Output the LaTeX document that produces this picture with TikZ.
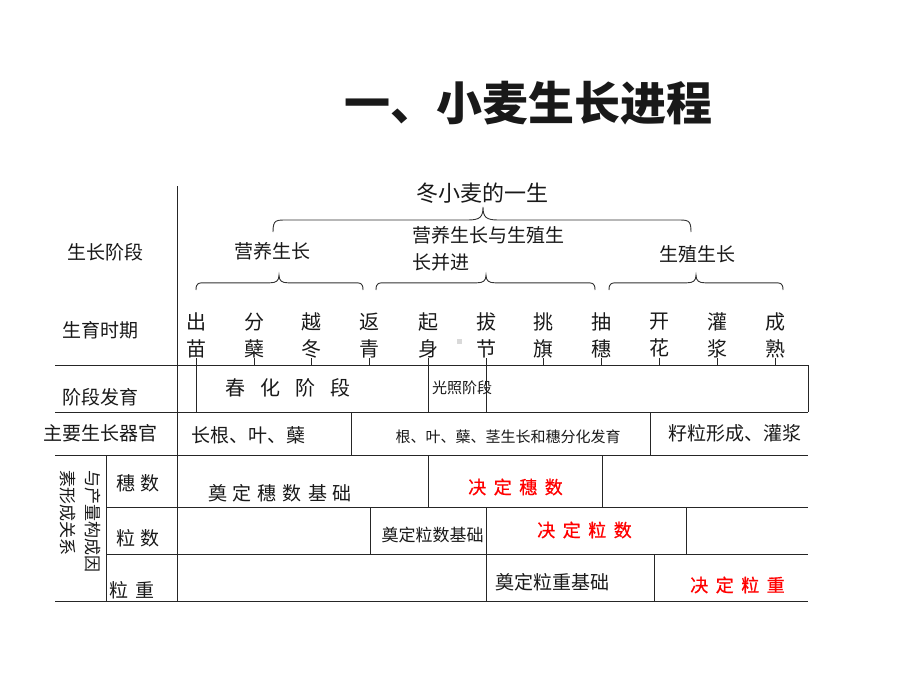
\documentclass[tikz,border=0pt]{standalone}
\usepackage{fontspec}
\setmainfont{Noto Sans CJK SC}
\newfontfamily\redfont[FakeBold=0.7]{Noto Sans CJK SC}
\newcommand{\wbrace}[5]{% left x, right x, cusp x, end y, amplitude
  \draw[brc] (#1,#4) .. controls (#1,#4-#5*0.5) and (#1+3,#4-#5*0.48) .. (#1+#5*0.6,#4-#5*0.48)
    -- (#3-#5*0.6,#4-#5*0.48) .. controls (#3-3,#4-#5*0.48) and (#3,#4-#5*0.6) .. (#3,#4-#5)
    .. controls (#3,#4-#5*0.6) and (#3+3,#4-#5*0.48) .. (#3+#5*0.6,#4-#5*0.48)
    -- (#2-#5*0.6,#4-#5*0.48) .. controls (#2-3,#4-#5*0.48) and (#2,#4-#5*0.5) .. (#2,#4);}
\begin{document}
\begin{tikzpicture}[x=1pt,y=-1pt,
  tbl/.style={draw=black!85, line width=0.9pt},
  brc/.style={draw=black!80, line width=0.9pt},
  lbl/.style={inner sep=0pt, anchor=center, text=black!90},
  t15/.style={lbl, font=\fontsize{15}{18}\selectfont},
  t17/.style={lbl, font=\fontsize{17}{20}\selectfont},
  t19/.style={lbl, font=\fontsize{19}{23}\selectfont},
  t20/.style={lbl, font=\fontsize{20}{24}\selectfont},
  t22/.style={lbl, font=\fontsize{22}{26}\selectfont},
  per/.style={lbl, align=center, font=\fontsize{20}{27}\selectfont},
  redt/.style={lbl, text=red, font=\redfont\fontsize{18}{22}\selectfont},
]
\useasboundingbox (0,0) rectangle (920,690);
\fill[white] (0,0) rectangle (920,690);

% title
\node[lbl, font=\fontsize{46}{50}\selectfont\bfseries] (title) at (528,103) {一、小麦生长进程};

% header texts
\node[t22] (life) at (482,193) {冬小麦的一生};
\node[t19] (veg) at (272,251) {营养生长};
\node[lbl, anchor=west, align=left, font=\fontsize{19}{27}\selectfont] (both) at (412,249) {营养生长与生殖生\\长并进};
\node[t19] (rep) at (697,254) {生殖生长};

% braces
\wbrace{273}{691}{483}{232}{25}
\wbrace{196}{363}{279}{290}{15}
\wbrace{376}{595}{486}{290}{15}
\wbrace{609}{783}{696}{290}{15}

% left labels
\node[t19] (l1) at (105,252) {生长阶段};
\node[t19] (l2) at (100,330) {生育时期};
\node[t19] (l3) at (100,397) {阶段发育};
\node[t19] (l4) at (100,433) {主要生长器官};

% table rules
\coordinate (r1) at (0,365);
\coordinate (r2) at (0,412);
\draw[tbl] (177,186) -- (177,601);
\draw[tbl] (55,365) -- (808,365) -- (808,412);
\draw[tbl] (55,412) -- (808,412);
\draw[tbl] (55,455) -- (808,455);
\draw[tbl] (106,507) -- (808,507);
\draw[tbl] (106,554) -- (808,554);
\draw[tbl] (55,601) -- (808,601);
\draw[tbl] (106,455) -- (106,601);
\draw[tbl] (351,412) -- (351,455);
\draw[tbl] (650,412) -- (650,455);
\draw[tbl] (428,455) -- (428,507);
\draw[tbl] (602,455) -- (602,507);
\draw[tbl] (370,507) -- (370,554);
\draw[tbl] (486,507) -- (486,554);
\draw[tbl] (686,507) -- (686,554);
\draw[tbl] (486,554) -- (486,601);
\draw[tbl] (654,554) -- (654,601);

% growth periods
\foreach \i/\x/\a/\b in {1/196/出/苗, 2/254/分/蘖, 3/311/越/冬, 4/369/返/青, 5/428/起/身, 6/486/拔/节, 7/543/挑/旗, 8/601/抽/穗, 9/659/开/花, 10/717/灌/浆, 11/775/成/熟}{
  \node[per] (p\i) at (\x,335.5) {\a\\\b};
}
\foreach \i in {2,3,4,7,8,9,10,11}{
  \draw[tbl] (p\i.south) -- (p\i.south |- r1);
}
\foreach \i in {1,5,6}{
  \draw[tbl] (p\i.south) -- (p\i.south |- r2);
}
\fill[gray!30] (457,339) rectangle (462,344);

% stage row
\node[t20] (chun) at (287.5,388) {春\hspace{15pt}化\hspace{15pt}阶\hspace{15pt}段};
\node[t15, anchor=west] (guang) at (432,388) {光照阶段};

% organ row
\node[t19] (o1) at (248,435) {长根、叶、蘖};
\node[t15] (o2) at (508,437) {根、叶、蘖、茎生长和穗分化发育};
\node[t19] (o3) at (735,433) {籽粒形成、灌浆};

% yield rows
\node[lbl, rotate=-90, align=left, font=\fontsize{17}{25}\selectfont] (yc) at (80.5,521.5) {与产量构成因\\素形成关系};
\node[t19] (y1) at (138,483) {穗\hspace{6pt}数};
\node[t19] (y2) at (138,538) {粒\hspace{6pt}数};
\node[t19] (y3) at (132,590) {粒\hspace{7pt}重};

\node[t19] (a1) at (280,493) {奠\hspace{6pt}定\hspace{6pt}穗\hspace{6pt}数\hspace{6pt}基\hspace{6pt}础};
\node[redt] (b1) at (515.5,487) {决\hspace{7.5pt}定\hspace{7.5pt}穗\hspace{7.5pt}数};
\node[t17] (a2) at (432.5,535) {奠定粒数基础};
\node[redt] (b2) at (584.5,530) {决\hspace{7.5pt}定\hspace{7.5pt}粒\hspace{7.5pt}数};
\node[t19] (a3) at (552,582) {奠定粒重基础};
\node[redt] (b3) at (737.5,585) {决\hspace{7.5pt}定\hspace{7.5pt}粒\hspace{7.5pt}重};
\end{tikzpicture}
\end{document}
